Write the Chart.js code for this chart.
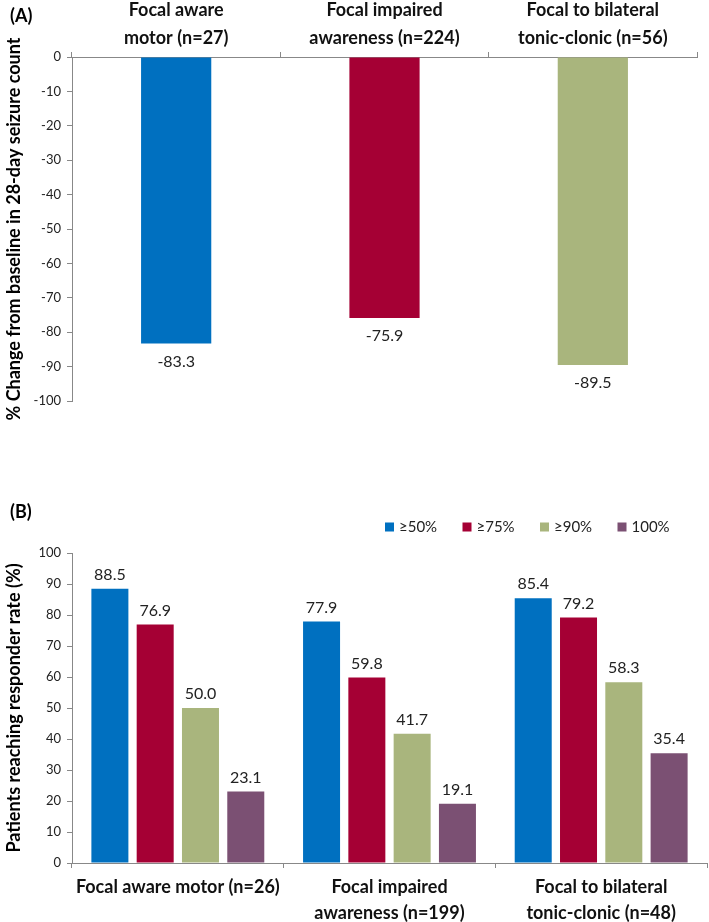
<!DOCTYPE html>
<html>
<head>
<meta charset="utf-8">
<script src="https://cdn.jsdelivr.net/npm/chart.js@4.4.0/dist/chart.umd.min.js"></script>
<style>
  body { margin: 0; background: #fff; }
  #chartA { position: absolute; left: 0; top: 0; }
  #chartB { position: absolute; left: 0; top: 470px; }
</style>
</head>
<body>
<canvas id="chartA" width="709" height="470"></canvas>
<canvas id="chartB" width="709" height="452"></canvas>
<script>
// panel A: median % change in 28-day seizure count
var seizureTypesA = [["Focal aware", "motor (n=27)"], ["Focal impaired", "awareness (n=224)"], ["Focal to bilateral", "tonic-clonic (n=56)"]];
var changeValues = [-83.3, -75.9, -89.5];
var colorsA = ['#0070C0', '#A50034', '#A9B57D'];

// panel B: responder rates
var seizureTypesB = ["Focal aware motor (n=26)", ["Focal impaired", "awareness (n=199)"], ["Focal to bilateral", "tonic-clonic (n=48)"]];
var responderLabels = ['≥50%', '≥75%', '≥90%', '100%'];
var responder50 = [88.5, 77.9, 85.4];
var responder75 = [76.9, 59.8, 79.2];
var responder90 = [50.0, 41.7, 58.3];
var responder100 = [23.1, 19.1, 35.4];
var colorsB = ['#0070C0', '#A50034', '#A9B57D', '#7B5073'];

var FONT = 'Lato, "Open Sans", sans-serif';

// numbers next to the bar ends
var valueLabels = {
  id: 'valueLabels',
  afterDatasetsDraw: function(chart, args, opts) {
    var ctx = chart.ctx;
    ctx.save();
    ctx.font = '16px ' + FONT;
    ctx.fillStyle = '#222';
    ctx.textAlign = 'center';
    chart.data.datasets.forEach(function(ds, i) {
      chart.getDatasetMeta(i).data.forEach(function(bar, j) {
        var v = ds.data[j];
        if (v < 0) {
          ctx.textBaseline = 'top';
          ctx.fillText(v.toFixed(1), bar.x, bar.y + opts.gap);
        } else {
          ctx.textBaseline = 'bottom';
          ctx.fillText(v.toFixed(1), bar.x, bar.y - opts.gap);
        }
      });
    });
    ctx.restore();
  }
};

// "(A)" / "(B)"
var panelTag = {
  id: 'panelTag',
  afterDraw: function(chart, args, opts) {
    var ctx = chart.ctx;
    ctx.save();
    ctx.font = 'bold 18px ' + FONT;
    ctx.fillStyle = '#000';
    ctx.textBaseline = 'middle';
    ctx.fillText(opts.text, 10, opts.y);
    ctx.restore();
  }
};

// legend row for panel B
var boxLegend = {
  id: 'boxLegend',
  afterDraw: function(chart, args, opts) {
    if (!opts.show) return;
    var ctx = chart.ctx;
    ctx.save();
    ctx.font = '15px ' + FONT;
    ctx.textBaseline = 'middle';
    chart.data.datasets.forEach(function(ds, i) {
      var x = opts.x + i * opts.step;
      ctx.fillStyle = ds.backgroundColor;
      ctx.fillRect(x, opts.y - 4.5, 9, 9);
      ctx.fillStyle = '#222';
      ctx.fillText(ds.label, x + 14, opts.y);
    });
    ctx.restore();
  }
};

function axisStyle() {
  return {
    grid: { display: true, drawOnChartArea: false, drawTicks: true, tickLength: 5, color: '#888' },
    border: { display: true, color: '#888', width: 1 }
  };
}

var yA = axisStyle();
yA.min = -100; yA.max = 0;
yA.ticks = { stepSize: 10, padding: 6, color: '#222', font: { family: FONT, size: 13 } };
yA.title = { display: true, text: '% Change from baseline in 28-day seizure count', color: '#000',
             font: { family: FONT, size: 18, weight: 'bold' }, padding: { top: 3, bottom: 0 } };
yA.afterFit = function(s) { s.width = 72; };

var xA = axisStyle();
xA.position = 'top';
xA.ticks = { color: '#111', padding: 0, font: { family: FONT, size: 18, weight: 'bold', lineHeight: 1.55 } };
xA.afterFit = function(s) { s.height = 57; };

new Chart(document.getElementById('chartA'), {
  type: 'bar',
  data: {
    labels: seizureTypesA,
    datasets: [{ data: changeValues, backgroundColor: colorsA, barPercentage: 0.337, categoryPercentage: 1 }]
  },
  options: {
    responsive: false,
    animation: false,
    layout: { padding: { left: 0, right: 12, top: 0, bottom: 69 } },
    scales: { x: xA, y: yA },
    plugins: {
      legend: { display: false },
      tooltip: { enabled: false },
      valueLabels: { gap: 10 },
      panelTag: { text: '(A)', y: 16 },
      boxLegend: { show: false }
    }
  },
  plugins: [valueLabels, panelTag, boxLegend]
});

var yB = axisStyle();
yB.min = 0; yB.max = 100;
yB.ticks = { stepSize: 10, padding: 6, color: '#222', font: { family: FONT, size: 13 } };
yB.title = { display: true, text: 'Patients reaching responder rate (%)', color: '#000',
             font: { family: FONT, size: 18, weight: 'bold' }, padding: { top: 3, bottom: 0 } };
yB.afterFit = function(s) { s.width = 72; };

var xB = axisStyle();
xB.ticks = { color: '#111', padding: 6, font: { family: FONT, size: 18, weight: 'bold', lineHeight: 1.45 } };
xB.afterFit = function(s) { s.height = 59; };

var seriesB = [responder50, responder75, responder90, responder100];
new Chart(document.getElementById('chartB'), {
  type: 'bar',
  data: {
    labels: seizureTypesB,
    datasets: seriesB.map(function(vals, i) {
      return { label: responderLabels[i], data: vals, backgroundColor: colorsB[i],
               barPercentage: 0.817, categoryPercentage: 0.856 };
    })
  },
  options: {
    responsive: false,
    animation: false,
    layout: { padding: { left: 0, right: 2, top: 83, bottom: 0 } },
    scales: { x: xB, y: yB },
    plugins: {
      legend: { display: false },
      tooltip: { enabled: false },
      valueLabels: { gap: 6 },
      panelTag: { text: '(B)', y: 42 },
      boxLegend: { show: true, x: 385, step: 77.5, y: 57 }
    }
  },
  plugins: [valueLabels, panelTag, boxLegend]
});
</script>
</body>
</html>
